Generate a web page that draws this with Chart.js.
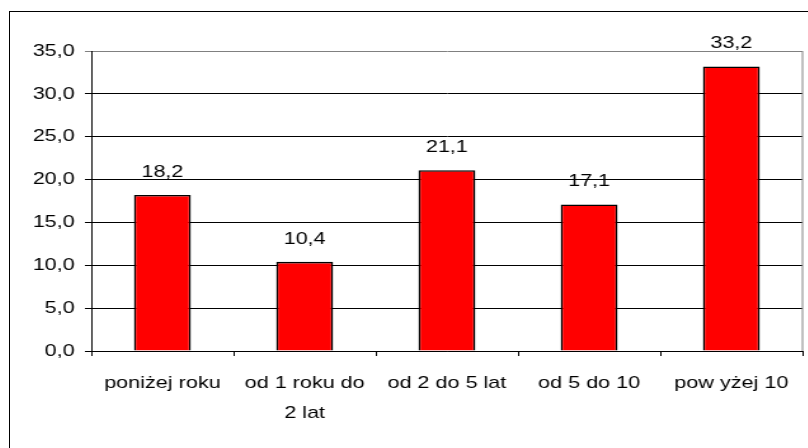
<!DOCTYPE html>
<html>
<head>
<meta charset="utf-8">
<script src="https://cdn.jsdelivr.net/npm/chart.js@4/dist/chart.umd.min.js"></script>
<style>
  html, body { margin: 0; padding: 0; background: #fff; overflow: hidden; }
  #frame {
    position: absolute; left: 9px; top: 11px; width: 820px; height: 460px;
    border-left: 1px solid #000; border-top: 1px solid #000;
  }
  #chart {
    position: absolute; left: 0; top: 0;
    transform-origin: 0 0; transform: scaleX(1.27);
  }
</style>
</head>
<body>
<div id="frame"><canvas id="chart" width="628" height="436"></canvas></div>
<script>
const categories = ["poniżej roku", ["od 1 roku do", "2 lat"], "od 2 do 5 lat", "od 5 do 10", "pow yżej 10"];
const values = [18.2, 10.4, 21.1, 17.1, 33.2];
const y_ticks = [0, 5, 10, 15, 20, 25, 30, 35];

const fmt = (v) => v.toFixed(1).replace(".", ",");
const font = { family: "'Liberation Sans', Arial, sans-serif", size: 17 };

// numbers above the bars
const value_labels = {
    id: "value_labels",
    afterDatasetsDraw(chart) {
        const ctx = chart.ctx;
        const meta = chart.getDatasetMeta(0);
        ctx.save();
        ctx.font = `${font.size}px ${font.family}`;
        ctx.fillStyle = "#000";
        ctx.textAlign = "center";
        ctx.textBaseline = "alphabetic";
        meta.data.forEach((bar, i) => {
            ctx.fillText(fmt(values[i]), bar.x, bar.y - 18);
        });
        ctx.restore();
    },
};

// grey frame on the right of the plot area
const plot_border = {
    id: "plot_border",
    beforeDatasetsDraw(chart) {
        const { ctx, chartArea } = chart;
        ctx.save();
        ctx.strokeStyle = "#808080";
        ctx.lineWidth = 1;
        ctx.beginPath();
        ctx.moveTo(chartArea.right, chartArea.top);
        ctx.lineTo(chartArea.right, chartArea.bottom);
        ctx.stroke();
        ctx.restore();
    },
};

new Chart(document.getElementById("chart"), {
    type: "bar",
    data: {
        labels: categories,
        datasets: [
            {
                data: values,
                backgroundColor: "#ff0000",
                borderColor: "#000",
                borderWidth: 1.6,
                barPercentage: 0.4,
                categoryPercentage: 1,
            },
        ],
    },
    options: {
        responsive: false,
        animation: false,
        devicePixelRatio: 1,
        layout: { padding: { top: 39, right: 4, left: 0, bottom: 0 } },
        plugins: { legend: { display: false }, tooltip: { enabled: false } },
        scales: {
            x: {
                offset: true,
                grid: {
                    offset: true,
                    drawOnChartArea: false,
                    color: "#000",
                    tickLength: 5,
                },
                border: { color: "#000" },
                ticks: {
                    color: "#000",
                    font: { ...font, lineHeight: 1.76 },
                    padding: 12,
                    maxRotation: 0,
                    autoSkip: false,
                },
                afterFit(scale) {
                    scale.height = 97;
                },
            },
            y: {
                min: 0,
                max: 35,
                afterBuildTicks(scale) {
                    scale.ticks = y_ticks.map((v) => ({ value: v }));
                },
                grid: {
                    color: (c) => (c.tick && c.tick.value === 35 ? "#808080" : "#000"),
                    tickLength: 5,
                },
                border: { color: "#000" },
                ticks: {
                    color: "#000",
                    font: font,
                    padding: 8,
                    callback: (v) => fmt(v),
                },
                afterFit(scale) {
                    scale.width = 64;
                },
            },
        },
    },
    plugins: [value_labels, plot_border],
});
</script>
</body>
</html>
